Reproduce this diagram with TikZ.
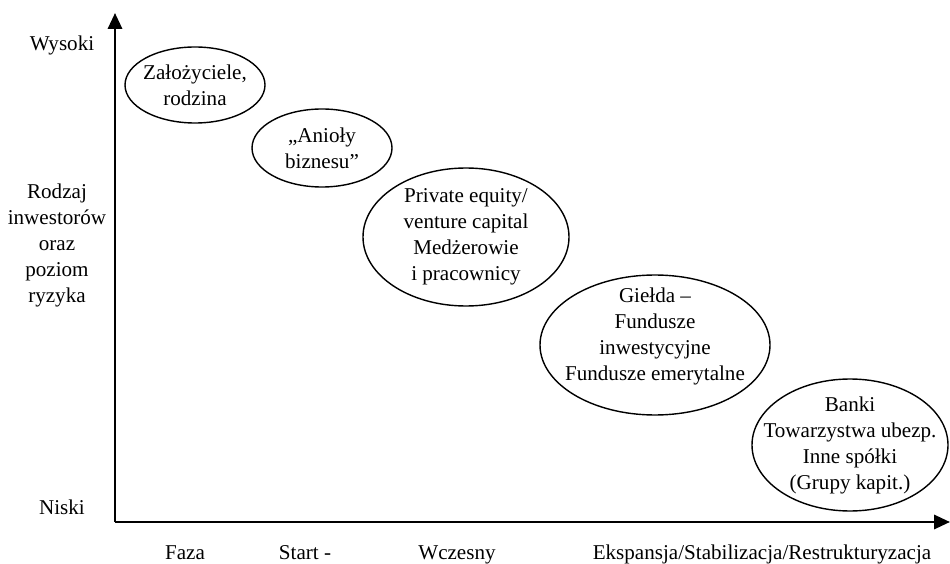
\documentclass[tikz,border=0pt]{standalone}
\usepackage{fontspec}
\setmainfont{Liberation Serif}
\usetikzlibrary{positioning,arrows.meta}

\tikzset{
  inwestor/.style={align=center,inner sep=0pt},
  obwod/.style={line width=0.8pt},
  os/.style={-{Triangle[length=9pt,width=8pt]},line width=1.5pt}
}

\begin{document}
\begin{tikzpicture}[x=0.02cm,y=-0.02cm,font=\fontsize{12}{14.8}\selectfont]
\useasboundingbox (0,0) rectangle (950,564);
% osie
\coordinate (o) at (115,522);
\coordinate (ytop) at (115,13);
\coordinate (xend) at (950,522);
\draw[os](o)--(ytop);
\draw[os](o)--(xend);
% opisy osi pionowej
\node (wys) at (62,45) {Wysoki};
\node[inwestor] (rodz) at (57,245) {Rodzaj\\inwestorów\\oraz\\poziom\\ryzyka};
\node (nis) at (62,507) {Niski};
% fazy
\node[anchor=base] (f1) at (185,559) {Faza};
\node[anchor=base] (f2) at (305,559) {Start -};
\node[anchor=base] (f3) at (457,559) {Wczesny};
\node[anchor=base] (f4) at (762,559) {Ekspansja/Stabilizacja/Restrukturyzacja};
% inwestorzy
\node[inwestor] (zal) at (195,85) {Założyciele,\\rodzina};
\draw[obwod](zal) ellipse (70 and 38);
\node[inwestor] (anio) at (322,148) {„Anioły\\biznesu”};
\draw[obwod](anio) ellipse (70 and 39);
\node[inwestor] (pe) at (466,237) {Private equity/\\venture capital\\Medżerowie\\i pracownicy};
\draw[obwod](pe) ellipse (103 and 69);
\node[inwestor] (gie) at (655,336) {Giełda –\\Fundusze\\inwestycyjne\\Fundusze emerytalne};
\draw[obwod]([yshift=-9*0.02cm]gie.center) ellipse (115 and 70);
\node[inwestor] (bank) at (850,445) {Banki\\Towarzystwa ubezp.\\Inne spółki\\(Grupy kapit.)};
\draw[obwod](bank) ellipse (98 and 66);
\end{tikzpicture}
\end{document}
